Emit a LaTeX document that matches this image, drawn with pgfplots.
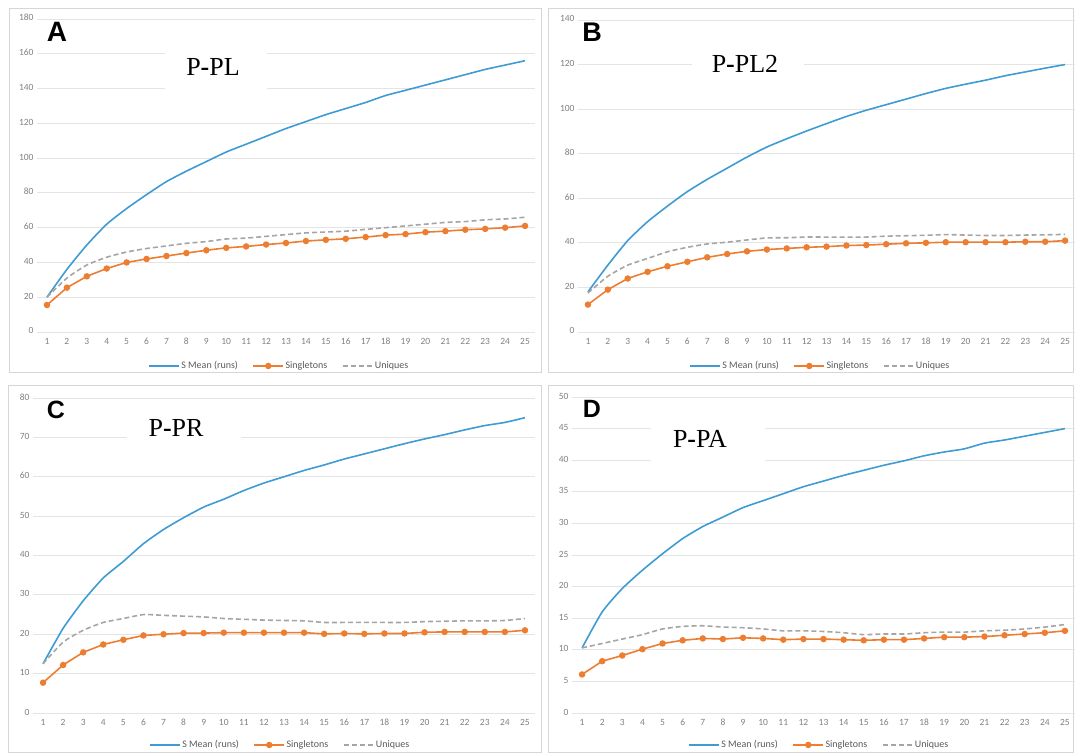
\documentclass[border=0pt]{standalone}
\usepackage{fontspec}
\setmainfont{Carlito}
\newfontfamily\ttlfont{Liberation Serif}
\newfontfamily\letfont{Liberation Sans}
\usepackage{pgfplots}
\usepackage{pgfplotstable}
\pgfplotsset{compat=1.18}

\definecolor{smeanc}{HTML}{3E9BD3}
\definecolor{singc}{HTML}{ED7D31}
\definecolor{uniqc}{HTML}{A5A5A5}
\definecolor{gridc}{HTML}{E4E4E4}
\definecolor{tickc}{HTML}{808080}
\definecolor{legc}{HTML}{595959}
\definecolor{framec}{HTML}{D6D6D6}

% x  smean  single  uniq
\pgfplotstableread{
x smean single uniq
1 20 15.5 20
2 36 25.5 31
3 50 32 38.5
4 62 36.5 43
5 71 40 46
6 79 42 48
7 86.5 43.7 49.5
8 92.5 45.4 51
9 98 47 52
10 103.5 48.4 53.5
11 108 49.2 54
12 112.5 50.3 55
13 117 51.2 56
14 121 52.3 57
15 125 53 57.5
16 128.5 53.6 58
17 132 54.6 59
18 136 55.7 60
19 139 56.3 61
20 142 57.4 62
21 145 58 63
22 148 58.8 63.5
23 151 59.3 64.5
24 153.5 60 65
25 156 61 66
}\tabA
\pgfplotstableread{
x smean single uniq
1 18 12.3 17.5
2 30 19 25
3 41 24 30
4 49.5 27 33
5 56.5 29.5 36
6 63 31.5 38
7 68.5 33.5 39.5
8 73.5 35 40.3
9 78.5 36.2 41.3
10 83 37 42.2
11 86.7 37.5 42.3
12 90.2 38 42.6
13 93.5 38.3 42.6
14 96.7 38.8 42.6
15 99.5 39 42.6
16 102 39.4 43
17 104.5 39.8 43.2
18 107 40 43.4
19 109.3 40.3 43.7
20 111.2 40.3 43.5
21 113 40.3 43.3
22 115 40.3 43.3
23 116.7 40.5 43.5
24 118.4 40.5 43.6
25 120 41 43.8
}\tabB
\pgfplotstableread{
x smean single uniq
1 12.5 7.7 12.5
2 21.5 12.2 18
3 28.5 15.4 21
4 34.3 17.4 23
5 38.5 18.6 24
6 43 19.7 25
7 46.6 20 24.8
8 49.6 20.3 24.6
9 52.3 20.3 24.4
10 54.3 20.4 24
11 56.5 20.4 23.8
12 58.4 20.4 23.6
13 60 20.4 23.5
14 61.6 20.4 23.4
15 63 20.1 23
16 64.5 20.2 23
17 65.8 20.1 23
18 67.1 20.2 23
19 68.4 20.2 23
20 69.6 20.5 23.2
21 70.7 20.6 23.3
22 71.9 20.6 23.4
23 73 20.6 23.4
24 73.8 20.6 23.5
25 75 21 24
}\tabC
\pgfplotstableread{
x smean single uniq
1 10.3 6.1 10.3
2 16 8.2 11
3 19.7 9.1 11.7
4 22.6 10.1 12.4
5 25.2 11 13.3
6 27.6 11.5 13.7
7 29.5 11.8 13.8
8 31 11.7 13.6
9 32.5 11.9 13.5
10 33.6 11.8 13.3
11 34.7 11.6 13
12 35.8 11.7 13
13 36.7 11.7 12.9
14 37.6 11.6 12.7
15 38.4 11.5 12.4
16 39.2 11.6 12.5
17 39.9 11.6 12.5
18 40.7 11.8 12.7
19 41.3 12 12.8
20 41.8 12 12.8
21 42.7 12.1 13
22 43.2 12.3 13.1
23 43.8 12.5 13.3
24 44.4 12.7 13.6
25 45 13 14
}\tabD

\pgfplotsset{
  panel/.style={
    scale only axis,
    xmin=0.5, xmax=25.5, ymin=0,
    xtick={1,...,25},
    axis line style={draw=none},
    major tick length=0pt,
    ymajorgrids, grid style={gridc, line width=0.8pt},
    tick label style={font=\fontsize{9.5}{10}\selectfont, text=tickc},
    typeset ticklabels with strut,
    /pgf/number format/assume math mode=true,
    xticklabel style={yshift=-2pt},
    legend columns=-1,
    legend cell align=left,
    legend style={draw=none, fill=none,
      font=\fontsize{10}{11}\selectfont, text=legc,
      nodes={inner xsep=1.5pt},
      /tikz/every even column/.append style={column sep=13pt}},
    legend image code/.code={\draw[mark repeat=2,mark phase=2,##1] plot coordinates {(0pt,0pt) (15pt,0pt) (30pt,0pt)};},
  },
  smeanl/.style={smeanc, line width=1.6pt, no marks, smooth, tension=0.35},
  singl/.style={singc, line width=1.6pt, mark=*, mark size=2.4pt, mark options={fill=singc, solid}},
  uniql/.style={uniqc, line width=1.6pt, no marks, dash pattern=on 5pt off 3pt, smooth, tension=0.35},
}

\newcommand{\threelines}[1]{%
  \addplot[smeanl] table[x=x, y=smean] {#1};
  \addlegendentry{S Mean (runs)}
  \addplot[singl] table[x=x, y=single] {#1};
  \addlegendentry{Singletons}
  \addplot[uniql] table[x=x, y=uniq] {#1};
  \addlegendentry{Uniques}
}

\begin{document}
\begin{tikzpicture}
\useasboundingbox (0pt,0pt) rectangle (1075pt,755pt);
% panel frames
\draw[framec, line width=0.8pt] (9pt,383pt) rectangle (541pt,747pt);
\draw[framec, line width=0.8pt] (548pt,383pt) rectangle (1073pt,747pt);
\draw[framec, line width=0.8pt] (8pt,3pt) rectangle (541pt,370pt);
\draw[framec, line width=0.8pt] (548pt,3pt) rectangle (1073pt,370pt);

% A
\begin{axis}[panel, at={(37pt,423pt)}, anchor=south west, width=498pt, height=313pt,
  ymax=180, ytick={0,20,...,180},
  legend style={at={(0.486,-0.1086)}, anchor=center}]
\threelines{\tabA}
\end{axis}
% B
\begin{axis}[panel, at={(578pt,423pt)}, anchor=south west, width=497pt, height=312pt,
  ymax=140, ytick={0,20,...,140},
  legend style={at={(0.487,-0.109)}, anchor=center}]
\threelines{\tabB}
\end{axis}
% C
\begin{axis}[panel, at={(33pt,42pt)}, anchor=south west, width=502pt, height=315pt,
  ymax=80, ytick={0,10,...,80},
  legend style={at={(0.492,-0.1016)}, anchor=center}]
\threelines{\tabC}
\end{axis}
% D
\begin{axis}[panel, at={(572pt,42pt)}, anchor=south west, width=503pt, height=316pt,
  ymax=50, ytick={0,5,...,50},
  legend style={at={(0.491,-0.101)}, anchor=center}]
\threelines{\tabD}
\end{axis}

% title boxes
\fill[white] (165pt,660pt) rectangle (267pt,705pt);
\fill[white] (692pt,670pt) rectangle (804pt,710pt);
\fill[white] (127pt,305pt) rectangle (241pt,350pt);
\fill[white] (651pt,285pt) rectangle (765pt,340pt);
\node[font=\ttlfont\fontsize{26}{28}\selectfont] at (213pt,688pt) {P{\bfseries -}PL};
\node[font=\ttlfont\fontsize{26}{28}\selectfont] at (745pt,691pt) {P{\bfseries -}PL2};
\node[font=\ttlfont\fontsize{26}{28}\selectfont] at (176pt,327pt) {P{\bfseries -}PR};
\node[font=\ttlfont\fontsize{26}{28}\selectfont] at (700pt,316pt) {P{\bfseries -}PA};

% panel letters
\node[font=\letfont\bfseries\fontsize{28}{30}\selectfont] at (57pt,723pt) {A};
\node[font=\letfont\bfseries\fontsize{27}{30}\selectfont] at (592pt,723pt) {B};
\node[font=\letfont\bfseries\fontsize{25}{28}\selectfont] at (56pt,345pt) {C};
\node[font=\letfont\bfseries\fontsize{25}{28}\selectfont] at (592pt,346pt) {D};
\end{tikzpicture}
\end{document}
